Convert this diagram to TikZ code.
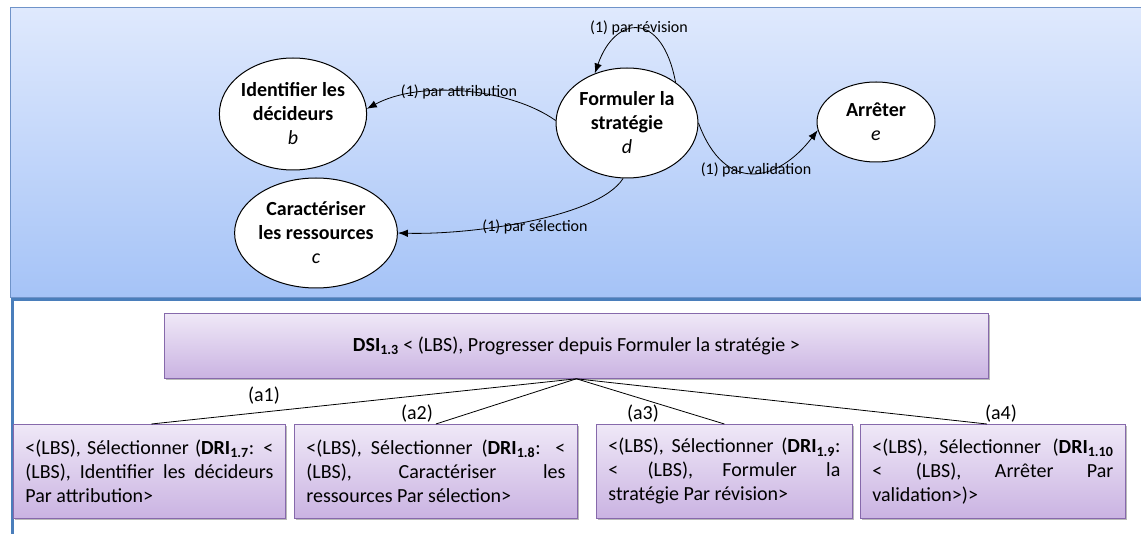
\documentclass[tikz,border=0pt]{standalone}
\usepackage{fontspec}
\setmainfont{Carlito}
\usetikzlibrary{shapes.geometric,arrows.meta,shadows}
\definecolor{panTop}{HTML}{DFE9FD}
\definecolor{panBot}{HTML}{A5C3F7}
\definecolor{panLine}{HTML}{6F93C9}
\definecolor{blueLine}{HTML}{4A7EBB}
\definecolor{boxTop}{HTML}{EFE8F7}
\definecolor{boxBot}{HTML}{CAB3E2}
\definecolor{boxLine}{HTML}{8669AB}
\begin{document}
\begin{tikzpicture}[x=1pt,y=-1pt,
  ell/.style={ellipse, draw, fill=white, line width=1pt, inner sep=0pt, align=center,
    font=\bfseries\fontsize{20}{24}\selectfont},
  lab/.style={font=\fontsize{16}{19}\selectfont, inner sep=0pt},
  alab/.style={font=\fontsize{20}{24}\selectfont, inner sep=0pt},
  arr/.style={-{Latex[length=10pt,width=7.5pt]}, line width=0.8pt},
  conn/.style={line width=0.8pt},
  purplebox/.style={draw=boxLine, line width=0.8pt, top color=boxTop, bottom color=boxBot,
    drop shadow={shadow xshift=2pt, shadow yshift=-2pt, fill=black!45, opacity=0.6},
    font=\fontsize{20}{24}\selectfont, inner xsep=12pt, anchor=north west},
  leafbox/.style={purplebox, align=justify, minimum height=94pt}
]
\useasboundingbox (0,0) rectangle (1141,534);
\fill[white] (0,0) rectangle (1141,534);
% top panel
\shade[top color=panTop, bottom color=panBot, draw=panLine, line width=1pt] (10,8) rectangle (1150,298);
% bottom panel frame
\draw[blueLine, line width=3pt] (1150,300) -- (12,300) -- (12,540);

% state nodes
\node[ell, minimum width=142pt, minimum height=112pt] (b) at (293,114)
  {Identifier les\\décideurs\\{\normalfont\itshape b}};
\node[ell, minimum width=156pt, minimum height=110pt] (c) at (316,233)
  {Caractériser\\les ressources\\{\normalfont\itshape c}};
\node[ell, minimum width=142pt, minimum height=110pt] (d) at (627,123)
  {Formuler la\\stratégie\\{\normalfont\itshape d}};
\node[ell, minimum width=118pt, minimum height=80pt] (e) at (876,122)
  {Arrêter\\{\normalfont\itshape e}};

% transitions
\draw[arr] (d.178) .. controls (510,88) and (420,80) .. (b.4);
\draw[arr] (d.266) .. controls (598,218) and (470,235) .. (c.east);
\draw[arr] (d.40) .. controls (662,10) and (615,15) .. (d.123);
\draw[arr] (d.east) .. controls (725,195) and (778,182) .. (e.188);

\node[lab] (lattr) at (459,92) {(1) par attribution};
\node[lab] (lsel) at (535,227) {(1) par sélection};
\node[lab] (lrev) at (639,28) {(1) par révision};
\node[lab] (lval) at (756,170) {(1) par validation};

% bottom tree
\node[purplebox, align=center, minimum width=824pt, minimum height=65pt] (dsi) at (164,313)
  {\textbf{DSI\textsubscript{1.3}} < (LBS), Progresser depuis Formuler la stratégie >};

\node[leafbox, text width=248pt] (l1) at (13,424)
  {<(LBS), Sélectionner (\textbf{DRI\textsubscript{1.7}}: <\linebreak (LBS), Identifier les décideurs\linebreak Par attribution>};
\node[leafbox, text width=259pt] (l2) at (294,424)
  {<(LBS), Sélectionner (\textbf{DRI\textsubscript{1.8}}: <\linebreak (LBS), Caractériser les\linebreak ressources Par sélection>};
\node[leafbox, text width=232pt] (l3) at (596,424)
  {<(LBS), Sélectionner (\textbf{DRI\textsubscript{1.9}}:\linebreak < (LBS), Formuler la\linebreak stratégie Par révision>};
\node[leafbox, text width=241pt] (l4) at (860,424)
  {<(LBS), Sélectionner (\textbf{DRI\textsubscript{1.10}}\linebreak < (LBS), Arrêter Par\linebreak validation>)>};

\draw[conn] (dsi.south) -- ([xshift=2pt]l1.north);
\draw[conn] (dsi.south) -- (l2.north);
\draw[conn] (dsi.south) -- (l3.north);
\draw[conn] (dsi.south) -- ([xshift=-6pt]l4.north);

\node[alab] (a1) at (264,396) {(a1)};
\node[alab] (a2) at (417,414) {(a2)};
\node[alab] (a3) at (643,414) {(a3)};
\node[alab] (a4) at (1001,414) {(a4)};
\end{tikzpicture}
\end{document}
